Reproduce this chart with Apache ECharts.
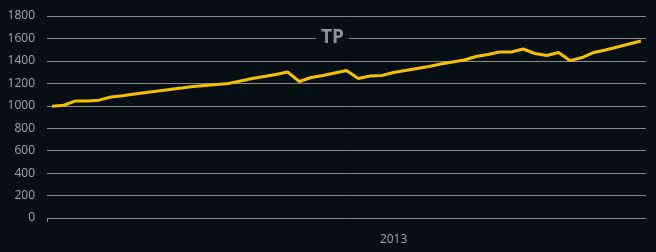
<!DOCTYPE html>
<html>
<head>
<meta charset="utf-8">
<script src="https://cdn.jsdelivr.net/npm/echarts@6/dist/echarts.min.js"></script>
<style>
html,body{margin:0;padding:0;background:#061014;}
#c{width:656px;height:252px;}
</style>
</head>
<body>
<div id="c"></div>
<script>
const titleText = 'TP';
const dates = [
  '2012-06-12','2012-06-19','2012-06-26','2012-07-03','2012-07-10','2012-07-17','2012-07-24','2012-07-31',
  '2012-08-07','2012-08-14','2012-08-21','2012-08-28','2012-09-04','2012-09-11','2012-09-18','2012-09-25',
  '2012-10-02','2012-10-09','2012-10-16','2012-10-23','2012-10-30','2012-11-06','2012-11-13','2012-11-20',
  '2012-11-27','2012-12-04','2012-12-11','2012-12-18','2012-12-25','2013-01-01','2013-01-08','2013-01-15',
  '2013-01-22','2013-01-29','2013-02-05','2013-02-12','2013-02-19','2013-02-26','2013-03-05','2013-03-12',
  '2013-03-19','2013-03-26','2013-04-02','2013-04-09','2013-04-16','2013-04-23','2013-04-30','2013-05-07',
  '2013-05-14','2013-05-21','2013-05-28'
];
const values = [
  995,1005,1043,1043,1050,1078,1090,1105,1118,1132,1145,1158,1172,1181,1190,1199,
  1221,1243,1261,1279,1301,1216,1252,1270,1292,1314,1243,1265,1270,1297,1314,1332,
  1350,1372,1390,1408,1439,1457,1479,1479,1506,1466,1448,1475,1402,1430,1475,1497,
  1524,1551,1577
];
const yTicks = [0,200,400,600,800,1000,1200,1400,1600,1800];
const xMin = '2012-06-09';
const xMax = '2013-05-31';
const xLabelDates = ['2013-01-01'];

const bg = '#061014';
const chart = echarts.init(document.getElementById('c'));
const toTs = s => { const p = s.split('-').map(Number); return Date.UTC(p[0], p[1]-1, p[2]); };
const labelTs = xLabelDates.map(toTs);
chart.setOption({
  backgroundColor: bg,
  animation: false,
  title: {
    text: titleText,
    left: 316, top: 27,
    padding: [1, 5],
    backgroundColor: bg,
    textStyle: { color: '#8d9398', fontSize: 19, fontWeight: 'bold', fontFamily: 'Open Sans, sans-serif' }
  },
  grid: { left: 47, right: 10, top: 16, bottom: 34 },
  xAxis: {
    type: 'value',
    min: toTs(xMin),
    max: toTs(xMax),
    axisLine: { show: false },
    splitLine: { show: false },
    axisTick: { show: true, customValues: [toTs(xMin)], length: 4, lineStyle: { color: '#8a8a8a' } },
    axisLabel: {
      customValues: labelTs,
      color: '#a3a7aa', fontSize: 12, margin: 16,
      fontFamily: 'Open Sans, sans-serif',
      formatter: function (v) { return String(new Date(v).getUTCFullYear()); }
    }
  },
  yAxis: {
    type: 'value',
    min: yTicks[0], max: yTicks[yTicks.length-1], interval: 200,
    axisLine: { show: false },
    axisTick: { show: false },
    axisLabel: { color: '#a3a7aa', fontSize: 12, margin: 12, fontFamily: 'Open Sans, sans-serif',
      formatter: function (v) { return String(v); } },
    splitLine: { lineStyle: { color: '#8a8a8a', width: 1 } }
  },
  series: [{
    type: 'line',
    data: dates.map((d, i) => [toTs(d), values[i]]),
    showSymbol: false,
    lineStyle: { color: '#f5c000', width: 3 },
    itemStyle: { color: '#f5c000' }
  }]
});
</script>
</body>
</html>
